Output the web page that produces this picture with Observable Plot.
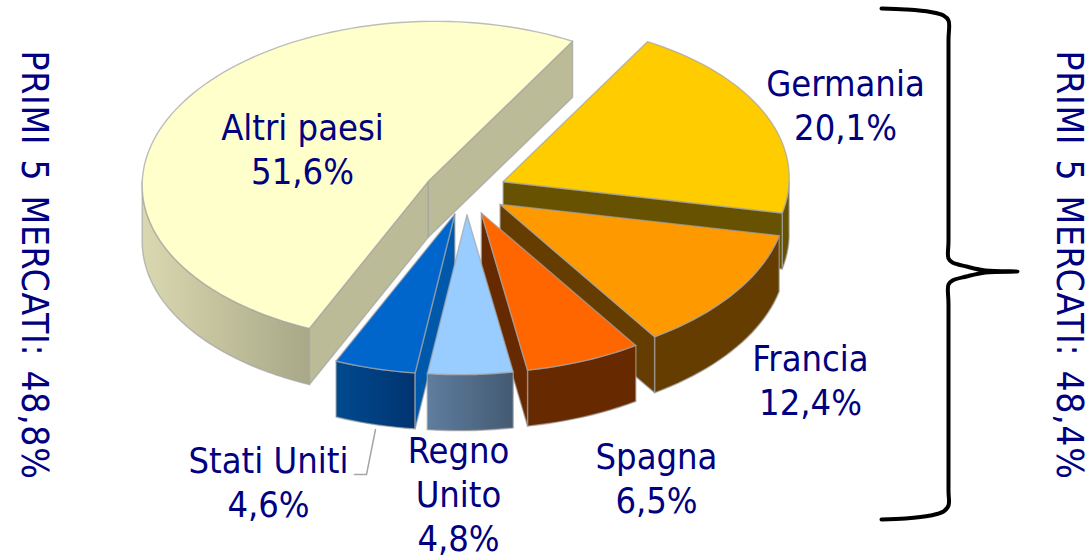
<!DOCTYPE html>
<html><head><meta charset="utf-8">
<script src="https://cdn.jsdelivr.net/npm/d3@7"></script>
<script src="https://cdn.jsdelivr.net/npm/@observablehq/plot@0.6"></script>
<style>html,body{margin:0;padding:0;background:#fff}svg{display:block}
.sideTitle text{letter-spacing:0.65px;word-spacing:3px}</style>
</head><body><div id="chart"></div>
<script>
// Data
const names  = ["Germania","Francia","Spagna","Regno\nUnito","Stati Uniti","Altri paesi"];
const shares = [20.1,12.4,6.5,4.8,4.6,51.6];
const sideTitles = ["PRIMI 5 MERCATI: 48,8%","PRIMI 5 MERCATI: 48,4%"];

// Styles per slice
const topColors  = ["#ffcc00","#ff9900","#ff6600","#99ccff","#0066cc","#ffffcc"];
const faceColors = ["#665200","#663d00","#662900","#3d5266","#0058aa","#bbbb98"];
const rimColors  = ["#665200","#663d00","#662900","url(#rimRegno)","url(#rimStati)","url(#rimAltri)"];
const drawOrder  = [5,0,1,2,4,3];

// Layout
const W = 1090, H = 557, cx = 465, cy = 191, rx = 286, ry = 160, shear = 7, depth = 56, explode = 0.145;
const firstAngle = 28.9 * Math.PI / 180;
const labelX = [845,810,656,458,268,302];
const labelY = [103.5,378.5,476.5,492.5,480.5,147.5];
const titleX = [33,1068];
const titleY = [50,50];
const bracePts = [[881,8],[905,9],[930,11.5],[943,15],[948,20],[948,40],[948,240],[948,258],[952,262],[966,266],[985,270],[1017,271],[985,272],[966,276],[952,280],[948,284],[948,304],[948,490],[948,505],[943,511],[930,515],[905,518],[881,519]];
const leaderPts = [[354,474],[366,474],[375,429]];

const arcs = d3.pie().sort(null).startAngle(firstAngle).endAngle(firstAngle + 2*Math.PI)(shares);
const unit = a => [Math.sin(a), -Math.cos(a)];
const geom = arcs.map(d => {
  const m = (d.startAngle + d.endAngle)/2, [ux,uy] = unit(m);
  const ax = cx + rx*explode*ux, ay = cy + ry*explode*uy;
  const at = (a,dz=0) => { const [u,v] = unit(a); return [ax+rx*u-shear*v, ay+ry*v+dz]; };
  const sweep = (a0,a1,dz=0) => {
    const n = Math.max(2, Math.ceil(Math.abs(a1-a0)/(Math.PI/90)));
    return d3.range(n+1).map(i => at(a0+(a1-a0)*i/n,dz));
  };
  return {s:d.startAngle,e:d.endAngle,ax,ay,at,sweep};
});

function poly(pts, fill, opts={}) {
  return Plot.line(pts, {x:d=>d[0], y:d=>d[1], fill, stroke:"#a3a3a3", strokeOpacity:0.7, strokeWidth:1.4, strokeLinejoin:"round", ...opts});
}
const pieMarks = [];
for (const i of drawOrder) {
  const g = geom[i], {s,e,ax,ay,at,sweep} = g;
  for (const [lo,hi] of [[Math.PI/2,1.5*Math.PI],[2.5*Math.PI,3.5*Math.PI]]) {
    const a0 = Math.max(s,lo), a1 = Math.min(e,hi);
    if (a1 > a0) {
      const ring = [...sweep(a0,a1), ...sweep(a1,a0,depth)];
      pieMarks.push(poly([...ring,ring[0]], rimColors[i]));
    }
  }
  const band = a => { const p = at(a), q = at(a,depth);
    return [[ax,ay],p,q,[ax,ay+depth],[ax,ay]]; };
  if (Math.sin(e) > 0) pieMarks.push(poly(band(e), faceColors[i]));
  if (Math.sin(s) < 0) pieMarks.push(poly(band(s), faceColors[i]));
  const top = [[ax,ay], ...sweep(s,e), [ax,ay]];
  pieMarks.push(poly(top, topColors[i]));
}

const fmt = v => v.toFixed(1).replace(".",",") + "%";
const labels = names.map((n,i) => ({text:`${n}\n${fmt(shares[i])}`, x:labelX[i], y:labelY[i]}));
const titles = sideTitles.map((t,i) => ({text:t, x:titleX[i], y:titleY[i]}));

function defs() {
  const d = d3.create("svg:defs");
  const grad = (id,stops) => {
    const g = d.append("linearGradient").attr("id",id).attr("x1",0).attr("x2",1).attr("y1",0).attr("y2",0);
    stops.forEach((c,k) => g.append("stop").attr("offset",k/(stops.length-1)).attr("stop-color",c));
  };
  grad("rimAltri",["#d9d8b0","#a9a887"]);
  grad("rimStati",["#004a8f","#003470"]);
  grad("rimRegno",["#5f7d9e","#445a72"]);
  return d.node();
}

const font = "'DejaVu Sans Condensed','DejaVu Sans',sans-serif";
const chart = Plot.plot({
  width:W, height:H, margin:0,
  x:{domain:[0,W], range:[0,W], axis:null},
  y:{domain:[0,H], range:[0,H], axis:null},
  style:{background:"#fff"},
  marks:[
    defs,
    ...pieMarks,
    Plot.line(leaderPts,{x:d=>d[0],y:d=>d[1],stroke:"#a6a6a6",strokeWidth:1.5}),
    Plot.line(bracePts,{x:d=>d[0],y:d=>d[1],stroke:"#000",strokeWidth:4,curve:"catmull-rom"}),
    Plot.text(labels,{x:"x",y:"y",text:"text",fill:"#000080",fontSize:36,fontFamily:font,lineHeight:1.22,lineAnchor:"middle",textAnchor:"middle"}),
    Plot.text(titles,{x:"x",y:"y",text:"text",fill:"#000080",fontSize:37,fontFamily:font,rotate:90,textAnchor:"start",lineAnchor:"middle",className:"sideTitle"})
  ]
});
document.getElementById("chart").appendChild(chart);
</script></body></html>
